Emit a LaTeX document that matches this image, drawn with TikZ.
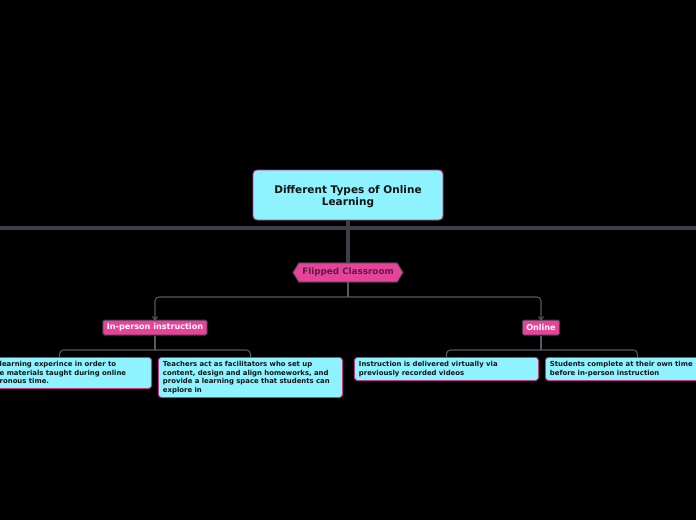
\documentclass[tikz,border=0pt]{standalone}
\usepackage{fontspec}
\setmainfont{DejaVu Sans}
\usetikzlibrary{arrows.meta}
\definecolor{cyanfill}{HTML}{8EF2FF}
\definecolor{pinkfill}{HTML}{E8439A}
\definecolor{pinkline}{HTML}{C9358A}
\definecolor{darkline}{HTML}{3C3F46}
\definecolor{thinline}{HTML}{55585F}
\definecolor{fctext}{HTML}{5A1F42}
\definecolor{leaftextc}{HTML}{141414}
\tikzset{
  rootbox/.style={draw=pinkline, line width=0.9pt, fill=cyanfill, rounded corners=4pt,
    minimum width=190pt, minimum height=50pt},
  roottext/.style={align=center, text=leaftextc, inner sep=0pt,
    font=\fontsize{10.5}{12}\selectfont\bfseries},
  topicbox/.style={draw=darkline, line width=1pt, fill=pinkfill, rounded corners=1.5pt,
    minimum height=15pt, inner xsep=4pt, inner ysep=0pt, text=white,
    font=\fontsize{8.1}{9}\selectfont\bfseries},
  leafbox/.style={draw=pinkline, line width=0.9pt, fill=cyanfill, rounded corners=3pt,
    minimum width=184pt, text width=175pt, inner xsep=4.5pt, align=left, text=leaftextc,
    font=\fontsize{6.9}{8.5}\selectfont\bfseries},
  leaftext/.style={inner sep=0pt, align=left, text=leaftextc,
    font=\fontsize{6.9}{8.5}\selectfont\bfseries},
  thick connector/.style={draw=darkline, line width=4pt},
  thin connector/.style={draw=thinline, line width=1.1pt, rounded corners=4pt},
  arrowed/.style={-{Straight Barb[length=3pt,width=5pt]}}
}
\begin{document}
\begin{tikzpicture}[x=1pt,y=-1pt]
\path[use as bounding box, fill=black] (0,0) rectangle (696,520);
\clip (0,0) rectangle (696,520);

% thick horizontal bar
\coordinate (hl) at (0,228);
\coordinate (hr) at (696,228);
\draw[thick connector] (hl) -- (hr);

% root
\node[rootbox] (root) at (348,195) {};
\node[roottext] (roottxt) at (348,197) {Different Types of Online\\Learning};

% Flipped Classroom
\node[inner sep=0pt, minimum width=110pt, minimum height=19pt] (fc) at (348,272.5) {};
\draw[thick connector] (root.south) -- (fc.north);
\fill[pinkfill, draw=darkline, line width=1pt]
  ([xshift=6pt]fc.north west) -- ([xshift=-6pt]fc.north east) -- (fc.east)
  -- ([xshift=-6pt]fc.south east) -- ([xshift=6pt]fc.south west) -- (fc.west) -- cycle;
\node[text=fctext, font=\fontsize{8.8}{9}\selectfont\bfseries] (fclabel) at (fc.center) {Flipped Classroom};

% second level
\node[topicbox] (ip) at (155,327.5) {In-person instruction};
\node[topicbox] (on) at (541,327.5) {Online};

\coordinate (b1) at (348,297);
\draw[thin connector] (fc.south) -- (b1);
\draw[thin connector, arrowed] (b1) -| ([yshift=-1pt]ip.north);
\draw[thin connector, arrowed] (b1) -| ([yshift=-1pt]on.north);

% leaves
\node[leafbox, minimum width=182pt, minimum height=31pt, anchor=north east] (l1) at (152,357) {};
\node[leaftext, anchor=north west] (l1text) at (-0.5,361.5) {learning experince in order to\\e materials taught during online\\ronous time.};
\node[leafbox, minimum height=40pt, anchor=north west] (l2) at (158,357)
  {Teachers act as facilitators who set up\\content, design and align homeworks, and\\provide a learning space that students can\\explore in};
\node[leafbox, minimum height=23pt, anchor=north west] (l3) at (354,357)
  {Instruction is delivered virtually via\\previously recorded videos};
\node[leafbox, minimum height=23pt, anchor=north west] (l4) at (545,357)
  {Students complete at their own time\\before in-person instruction};

\coordinate (b2) at (155,350);
\draw[thin connector] (ip.south) -- (b2);
\draw[thin connector] (b2) -| (l1.north);
\draw[thin connector] (b2) -| (l2.north);

\coordinate (b3) at (541,350);
\draw[thin connector] (on.south) -- (b3);
\draw[thin connector] (b3) -| (l3.north);
\draw[thin connector] (b3) -| (l4.north);
\end{tikzpicture}
\end{document}
